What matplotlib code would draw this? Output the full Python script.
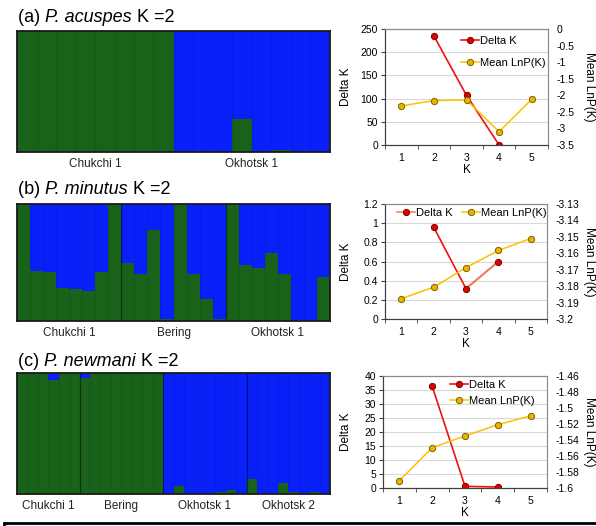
import numpy as np
import matplotlib
matplotlib.use("Agg")
import matplotlib.pyplot as plt
from matplotlib.lines import Line2D
from matplotlib.patches import Rectangle
from matplotlib.ticker import FuncFormatter, MultipleLocator
from matplotlib.transforms import offset_copy

plt.rcParams['font.family'] = ['Liberation Sans', 'DejaVu Sans']

# STRUCTURE membership (fraction of green cluster per individual)
acuspes_groups = ["Chukchi 1", "Okhotsk 1"]
acuspes_sizes = [8, 8]
acuspes_green = [1, 1, 1, 1, 1, 1, 1, 1,
                 0, 0, 0, 0.27, 0, 0.02, 0, 0]

minutus_groups = ["Chukchi 1", "Bering", "Okhotsk 1"]
minutus_sizes = [8, 8, 8]
minutus_green = [1.0, 0.43, 0.42, 0.28, 0.275, 0.26, 0.42, 1.0,
                 0.50, 0.40, 0.78, 0.02, 1.0, 0.40, 0.19, 0.02,
                 1.0, 0.48, 0.45, 0.58, 0.40, 0.0, 0.0, 0.38]

newmani_groups = ["Chukchi 1", "Bering", "Okhotsk 1", "Okhotsk 2"]
newmani_sizes = [6, 8, 8, 8]
newmani_green = [1.0, 1.0, 0.99, 0.94, 1.0, 1.0,
                 0.96, 0.99, 1.0, 1.0, 0.995, 1.0, 1.0, 1.0,
                 0, 0.07, 0, 0, 0, 0.02, 0.03, 0,
                 0.12, 0, 0, 0.095, 0.015, 0, 0.015, 0]

# Evanno delta K and mean LnP(K)
K = [1, 2, 3, 4, 5]
acuspes_dk = [np.nan, 235, 107, 0, np.nan]
acuspes_lnp = [-2.32, -2.16, -2.14, -3.10, -2.12]
minutus_dk = [np.nan, 0.96, 0.317, 0.60, np.nan]
minutus_lnp = [-3.1876, -3.1807, -3.1687, -3.1583, -3.151]
newmani_dk = [np.nan, 36.3, 0.6, 0.35, np.nan]
newmani_lnp = [-1.5909, -1.5495, -1.535, -1.5209, -1.5097]

GREEN = '#18621A'
BLUE = '#0A20F8'
RED = '#F01010'
SALMON = '#F08A60'
GOLD = '#FFC000'

W, H = 596, 526
fig = plt.figure(figsize=(W / 100, H / 100), dpi=100)
renderer = fig.canvas.get_renderer()


def px_axes(l, t, r, b):
    return fig.add_axes([l / W, 1 - b / H, (r - l) / W, (b - t) / H])


def title(x, y, parts):
    # parts: (text, style) drawn one after another on the same baseline
    tr = fig.transFigure
    for s, style in parts:
        t = fig.text(x / W, 1 - y / H, s, fontsize=13, style=style, va='baseline',
                     transform=tr)
        ext = t.get_window_extent(renderer)
        tr = offset_copy(t.get_transform(), fig=fig, x=ext.width, y=0, units='dots')


def structure(rect, green, names, sizes, seps=True):
    ax = px_axes(*rect)
    g = np.array(green)
    n = len(g)
    x = np.arange(n)
    ax.set_facecolor(BLUE)
    ax.bar(x, g, width=1.0, align='edge', color=GREEN, linewidth=0, antialiased=False)
    ax.bar(x, 1 - g, bottom=g, width=1.0, align='edge', color=BLUE, linewidth=0,
           antialiased=False)
    ax.vlines(np.arange(1, n), 0, 1, color='k', alpha=0.07, lw=0.8)
    edges = np.cumsum(sizes)
    if seps:
        ax.vlines(edges[:-1], 0, 1, color='k', alpha=0.45, lw=0.8)
    ax.set_xlim(0, n)
    ax.set_ylim(0, 1)
    ax.set_xticks(edges - np.array(sizes) / 2, names)
    ax.tick_params(length=0, pad=4, labelsize=8.5, colors='#222222')
    ax.set_yticks([])
    for s in ax.spines.values():
        s.set_color('#1a1a1a')
        s.set_linewidth(1.3)
    return ax


def fmt(v, pos):
    return '{:g}'.format(round(v, 4))


def kplot(rect, dk, lnp, lyl, lstep, ryl, rstep, leg_xy, ncol, labsp, second_seg=None):
    ax = px_axes(*rect)
    ax2 = ax.twinx()
    ax.plot(K, dk, color=RED, lw=1.2, zorder=3)
    if second_seg:
        ax.plot(K[2:4], dk[2:4], color=second_seg, lw=1.2, zorder=3)
    ax.plot(K, dk, 'o', ms=4.5, mfc='#E00000', mec='#7A0000', mew=0.7, zorder=4)
    ax2.plot(K, lnp, color=GOLD, lw=1.1, marker='o', ms=4.5,
             mfc='#E8B400', mec='#7F6000', mew=0.7)
    ax.set_xlim(0.5, 5.5)
    ax.set_ylim(*lyl)
    ax2.set_ylim(*ryl)
    ax.yaxis.set_major_locator(MultipleLocator(lstep))
    ax2.yaxis.set_major_locator(MultipleLocator(rstep))
    ax.yaxis.set_major_formatter(FuncFormatter(fmt))
    ax2.yaxis.set_major_formatter(FuncFormatter(fmt))
    ax.set_xticks(K)
    ax.set_xticks(np.arange(0.5, 6, 1), minor=True)
    ax.tick_params(axis='x', which='major', length=0, pad=6, labelsize=7.5)
    ax.tick_params(axis='x', which='minor', length=3, color='#404040')
    ax.tick_params(axis='y', length=3, color='#404040', labelsize=7.5, pad=2)
    ax2.tick_params(axis='y', length=0, labelsize=7.5, pad=6)
    ax.yaxis.grid(True, color='#D9D9D9', lw=0.8)
    ax.set_axisbelow(True)
    for a in (ax, ax2):
        a.spines['top'].set_color('#8C8C8C')
        a.spines['right'].set_color('#8C8C8C')
        a.spines['left'].set_color('#404040')
        a.spines['bottom'].set_color('#404040')
    handles = [Line2D([], [], color=second_seg or RED, lw=1.2, marker='o', ms=4.5,
                      mfc='#E00000', mec='#7A0000', mew=0.7),
               Line2D([], [], color=GOLD, lw=1.1, marker='o', ms=4.5,
                      mfc='#E8B400', mec='#7F6000', mew=0.7)]
    ax2.legend(handles, ['Delta K', 'Mean LnP(K)'], loc='upper left',
               bbox_to_anchor=(leg_xy[0] / W, 1 - leg_xy[1] / H),
               bbox_transform=fig.transFigure, frameon=False, fontsize=8,
               handlelength=1.6, handletextpad=0.15, borderpad=0,
               borderaxespad=0, labelspacing=labsp, ncol=ncol, columnspacing=0.8)
    cx = (rect[0] + rect[2]) / 2
    cy = (rect[1] + rect[3]) / 2
    fig.text(cx / W, 1 - (rect[3] + 25) / H, 'K', ha='center', va='center', fontsize=8.5)
    fig.text(346 / W, 1 - cy / H, 'Delta K', rotation=90, ha='center', va='center', fontsize=8.5)
    fig.text(589 / W, 1 - cy / H, 'Mean LnP(K)', rotation=270, ha='center', va='center', fontsize=8.5)
    return ax


# titles
title(18, 22.5, [('(a) ', 'normal'), ('P. acuspes', 'italic'), (' K =2', 'normal')])
title(18, 194, [('(b) ', 'normal'), ('P. minutus', 'italic'), (' K =2', 'normal')])
title(18, 366, [('(c) ', 'normal'), ('P. newmani', 'italic'), (' K =2', 'normal')])

structure((17, 31, 330, 152), acuspes_green, acuspes_groups, acuspes_sizes, seps=False)
structure((17, 204, 330, 321), minutus_green, minutus_groups, minutus_sizes)
structure((17, 373, 330, 494), newmani_green, newmani_groups, newmani_sizes)

kplot((385, 29, 548, 145), acuspes_dk, acuspes_lnp, (0, 250), 50, (-3.5, 0), 0.5,
      (461, 36), 1, 1.1)
kplot((385, 204, 547, 319), minutus_dk, minutus_lnp, (0, 1.2), 0.2, (-3.2, -3.13), 0.01,
      (397, 208), 2, 0.5, second_seg=SALMON)
kplot((383, 376, 547, 488), newmani_dk, newmani_lnp, (0, 40), 5, (-1.6, -1.46), 0.02,
      (450, 380), 1, 0.5)

fig.patches.append(Rectangle((4 / W, -0.05), 1.0, 0.05 + 1 - 523 / H, fill=False,
                             edgecolor='black', lw=2, transform=fig.transFigure))

fig.savefig('out.png', dpi=100)
